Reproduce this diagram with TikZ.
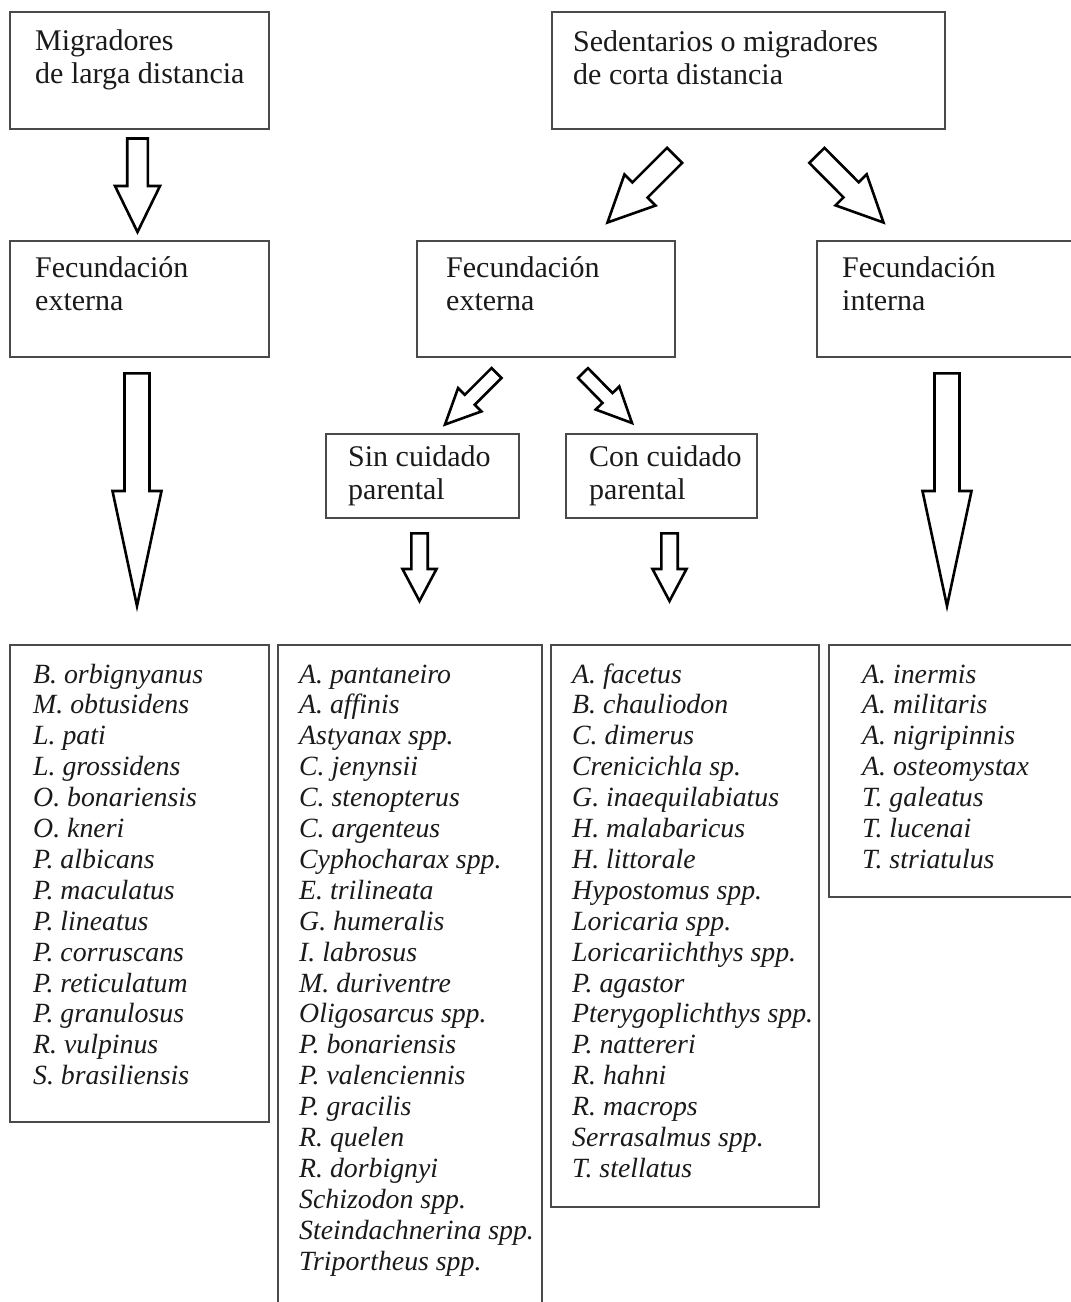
\documentclass[tikz,border=0pt]{standalone}
\usepackage{fontspec}
\setmainfont{Liberation Serif}
\usetikzlibrary{calc}

\definecolor{boxline}{HTML}{4A4A4A}
\definecolor{ink}{HTML}{1A1A1A}

% hollow block arrow: #1 tail centre, #2 tip, #3 half shaft width,
% #4 half head width, #5 head length
\newcommand\blockarrow[5]{%
  \coordinate (ah) at ($(#2)!#5!(#1)$);
  \draw[barrow] ($(#1)!#3!90:(#2)$) -- ($(ah)!#3!90:(#2)$) -- ($(ah)!#4!90:(#2)$)
    -- (#2) -- ($(ah)!#4!-90:(#2)$) -- ($(ah)!#3!-90:(#2)$) -- ($(#1)!#3!-90:(#2)$) -- cycle;
}

\begin{document}
\begin{tikzpicture}[x=1pt,y=-1pt,
  frame/.style={draw=boxline, line width=1.4pt, anchor=north west, inner sep=0pt, outer sep=0pt},
  head/.style={anchor=base west, inner sep=0pt, text=ink, font=\fontsize{30}{33}\selectfont},
  lst/.style={anchor=base west, inner sep=0pt, text=ink, font=\fontsize{27.8}{31}\selectfont\itshape},
  barrow/.style={draw=black, line width=2.6pt, line join=miter, fill=white}]
\useasboundingbox (0,0) rectangle (1071,1302);
\clip (0,0) rectangle (1071,1302);
\fill[white] (0,0) rectangle (1071,1302);

% boxes of the upper levels
\node[frame, minimum width=259pt, minimum height=117pt] (bMig) at (10,12) {};
\node[frame, minimum width=393pt, minimum height=117pt] (bSed) at (552,12) {};
\node[frame, minimum width=259pt, minimum height=116pt] (bFe1) at (10,241) {};
\node[frame, minimum width=258pt, minimum height=116pt] (bFe2) at (417,241) {};
\node[frame, minimum width=270pt, minimum height=116pt] (bFi) at (817,241) {};
\node[frame, minimum width=193pt, minimum height=84pt] (bSin) at (326,434) {};
\node[frame, minimum width=191pt, minimum height=84pt] (bCon) at (566,434) {};

% boxes with the species lists
\node[frame, minimum width=259pt, minimum height=477pt] (lst1) at (10,645) {};
\node[frame, minimum width=264pt, minimum height=680pt] (lst2) at (278,645) {};
\node[frame, minimum width=268pt, minimum height=562pt] (lst3) at (551,645) {};
\node[frame, minimum width=260pt, minimum height=252pt] (lst4) at (829,645) {};

% headings
\node[head] (tMig1) at (35,50) {Migradores};
\node[head] (tMig2) at (35,83) {de larga distancia};
\node[head] (tSed1) at (573,51) {Sedentarios o migradores};
\node[head] (tSed2) at (573,84) {de corta distancia};
\node[head] (tFe1a) at (35,277) {Fecundación};
\node[head] (tFe1b) at (35,310) {externa};
\node[head] (tFe2a) at (446,277) {Fecundación};
\node[head] (tFe2b) at (446,310) {externa};
\node[head] (tFia) at (842,277) {Fecundación};
\node[head] (tFib) at (842,310) {interna};
\node[head] (tSina) at (348,466) {Sin cuidado};
\node[head] (tSinb) at (348,499) {parental};
\node[head] (tCona) at (589,466) {Con cuidado};
\node[head] (tConb) at (589,499) {parental};

% species lists
\foreach \t [count=\i] in {B. orbignyanus, M. obtusidens, L. pati, L. grossidens,
  O. bonariensis, O. kneri, P. albicans, P. maculatus, P. lineatus, P. corruscans,
  P. reticulatum, P. granulosus, R. vulpinus, S. brasiliensis}
  \node[lst] (sA\i) at (33,{683+(\i-1)*30.9}) {\t};
\foreach \t [count=\i] in {A. pantaneiro, A. affinis, Astyanax spp., C. jenynsii,
  C. stenopterus, C. argenteus, Cyphocharax spp., E. trilineata, G. humeralis,
  I. labrosus, M. duriventre, Oligosarcus spp., P. bonariensis, P. valenciennis,
  P. gracilis, R. quelen, R. dorbignyi, Schizodon spp., Steindachnerina spp.,
  Triportheus spp.}
  \node[lst] (sB\i) at (299,{683+(\i-1)*30.9}) {\t};
\foreach \t [count=\i] in {A. facetus, B. chauliodon, C. dimerus, Crenicichla sp.,
  G. inaequilabiatus, H. malabaricus, H. littorale, Hypostomus spp., Loricaria spp.,
  Loricariichthys spp., P. agastor, Pterygoplichthys spp., P. nattereri, R. hahni,
  R. macrops, Serrasalmus spp., T. stellatus}
  \node[lst] (sC\i) at (572,{683+(\i-1)*30.9}) {\t};
\foreach \t [count=\i] in {A. inermis, A. militaris, A. nigripinnis, A. osteomystax,
  T. galeatus, T. lucenai, T. striatulus}
  \node[lst] (sD\i) at (862,{683+(\i-1)*30.9}) {\t};

% arrow end points
\coordinate (a1s) at (137.5,138.5);  \coordinate (a1e) at (137.5,232);
\coordinate (a2s) at (674.6,155.4);  \coordinate (a2e) at (607.5,222.5);
\coordinate (a3s) at (816.9,155.4);  \coordinate (a3e) at (883.5,222.5);
\coordinate (a4s) at (137,373.3);    \coordinate (a4e) at (137,606);
\coordinate (a5s) at (496.5,373);    \coordinate (a5e) at (445,424.5);
\coordinate (a6s) at (583,373);      \coordinate (a6e) at (632,423);
\coordinate (a7s) at (947,373.3);    \coordinate (a7e) at (947,606);
\coordinate (a8s) at (419.5,533.3);  \coordinate (a8e) at (419.5,601);
\coordinate (a9s) at (669.5,533.3);  \coordinate (a9e) at (669.5,601);

% block arrows
\blockarrow{a1s}{a1e}{10.3pt}{22.5pt}{46pt}
\blockarrow{a2s}{a2e}{10.7pt}{22pt}{46pt}
\blockarrow{a3s}{a3e}{10.7pt}{22pt}{46pt}
\blockarrow{a4s}{a4e}{12.5pt}{24.5pt}{115pt}
\blockarrow{a7s}{a7e}{12.5pt}{24.5pt}{115pt}
\blockarrow{a5s}{a5e}{7pt}{16.5pt}{35pt}
\blockarrow{a6s}{a6e}{7pt}{16.5pt}{35pt}
\blockarrow{a8s}{a8e}{8.2pt}{17pt}{32pt}
\blockarrow{a9s}{a9e}{8.2pt}{17pt}{32pt}
\end{tikzpicture}
\end{document}
